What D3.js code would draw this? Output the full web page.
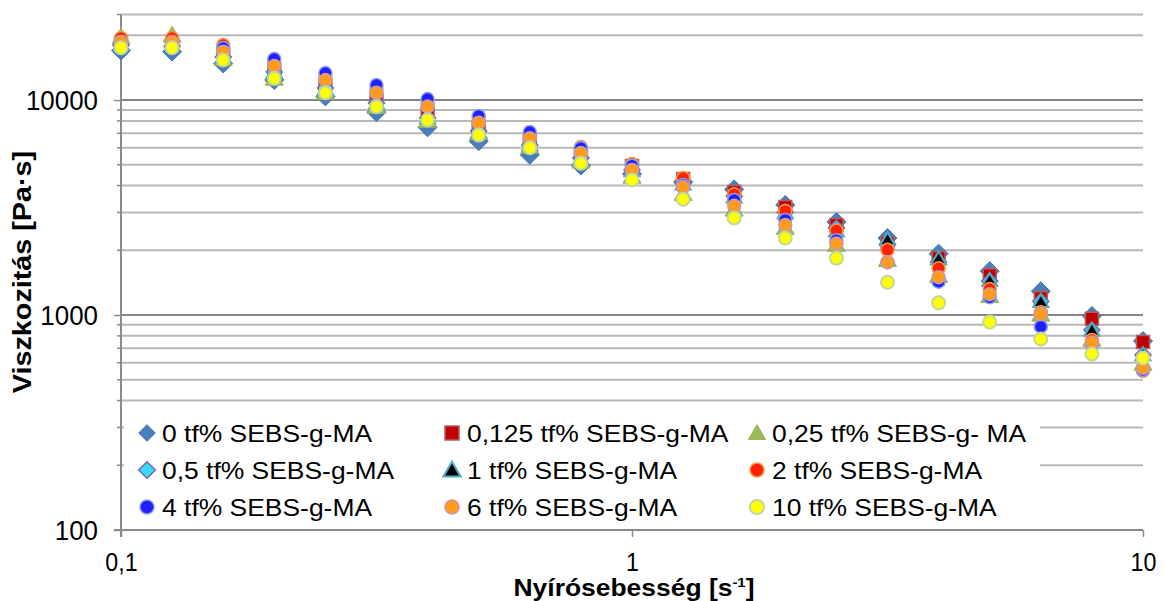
<!DOCTYPE html>
<html>
<head>
<meta charset="utf-8">
<script src="https://cdn.jsdelivr.net/npm/d3@7"></script>
<style>
  html, body { margin: 0; padding: 0; background: #fff; }
  svg { display: block; font-family: "Liberation Sans", Arial, Helvetica, sans-serif; }
</style>
</head>
<body>
<svg id="chart" width="1164" height="601"></svg>
<script>
// ---------------- DATA ----------------
const shearRates = [0.1, 0.1259, 0.1585, 0.1995, 0.2512, 0.3162, 0.3981, 0.5012, 0.631, 0.7943,
                    1, 1.259, 1.585, 1.995, 2.512, 3.162, 3.981, 5.012, 6.31, 7.943, 10];

const seriesNames = ["0 tf% SEBS-g-MA", "0,125 tf% SEBS-g-MA", "0,25 tf% SEBS-g- MA",
                     "0,5 tf% SEBS-g-MA", "1 tf% SEBS-g-MA", "2 tf% SEBS-g-MA",
                     "4 tf% SEBS-g-MA", "6 tf% SEBS-g-MA", "10 tf% SEBS-g-MA"];

const visc0    = [17000,16800,14800,12400,10400,8780,7470,6430,5560,4960,4530,4160,3840,3250,2710,2280,1930,1600,1290,990,757];
const visc0125 = [18200,18100,16200,13800,11700,10000,8600,7400,6400,5550,4930,4290,3730,3180,2620,2160,1840,1530,1200,960,750];
const visc025  = [19300,19700,15300,12400,10660,9180,7900,6950,5980,5100,4340,3610,3050,2510,2090,1780,1500,1210,990,757,585];
const visc05   = [18000,17800,15850,13500,11370,9680,8250,7170,6170,5370,4730,4110,3580,3010,2540,2140,1760,1440,1160,852,652];
const visc1    = [17800,17800,15680,13350,11130,9580,8160,7020,6110,5260,4630,4020,3500,2950,2430,2210,1800,1430,1140,840,645];
const visc2    = [19430,19430,18020,15020,12930,11250,9680,8160,6950,6040,5040,4340,3650,3050,2470,2010,1650,1320,1030,765,550];
const visc4    = [18610,18410,17450,15510,13350,11740,10110,8430,7100,5980,4950,4030,3430,2770,2230,1760,1430,1210,882,725,555];
const visc6    = [18610,18610,16780,14390,12390,10810,9330,7840,6640,5670,4730,3940,3220,2620,2150,1760,1500,1250,1010,745,567];
const visc10   = [17510,17510,15350,12620,10810,9310,8070,6870,6000,5080,4250,3460,2830,2280,1840,1420,1140,928,773,659,631];

const seriesValues = [visc0, visc0125, visc025, visc05, visc1, visc2, visc4, visc6, visc10];

const xTickValues = [0.1, 1, 10];
const xTickLabels = ["0,1", "1", "10"];
const yTickValues = [100, 1000, 10000];
const yTickLabels = ["100", "1000", "10000"];

const xTitle = "Nyírósebesség [s";
const xTitleSup = "-1";
const xTitleEnd = "]";
const yTitle = "Viszkozitás [Pa·s]";

// ---------------- STYLES ----------------
const markerStyles = [
  { shape: "diamond",  size: 9.5, fill: "#4a7ebb", stroke: "#4474ad", sw: 1 },
  { shape: "square",   size: 13,  fill: "#c00000", stroke: "#b0605e", sw: 1.5 },
  { shape: "triangle", size: 18,  fill: "#9bbb59", stroke: "#93b255", sw: 1 },
  { shape: "diamond",  size: 8,   fill: "#33ddff", stroke: "#8064a2", sw: 1.5 },
  { shape: "triangle", size: 15,  fill: "#000000", stroke: "#4bacc6", sw: 2 },
  { shape: "circle",   size: 6.5, fill: "#ff2200", stroke: "#f79646", sw: 1.5 },
  { shape: "circle",   size: 6.5, fill: "#2020ff", stroke: "#8c9ee6", sw: 1.5 },
  { shape: "circle",   size: 6.5, fill: "#ff9a1c", stroke: "#c89aa8", sw: 1.5 },
  { shape: "circle",   size: 6.5, fill: "#ffff00", stroke: "#c3d69b", sw: 2 }
];

function markerPath(shape, s) {
  if (shape === "diamond") return `M0,${-s}L${s},0L0,${s}L${-s},0Z`;
  if (shape === "square") { const h = s / 2; return `M${-h},${-h}H${h}V${h}H${-h}Z`; }
  if (shape === "triangle") {
    const h = s * 0.866;
    return `M0,${-2 * h / 3}L${s / 2},${h / 3}L${-s / 2},${h / 3}Z`;
  }
  return `M${s},0A${s},${s} 0 1,1 ${-s},0A${s},${s} 0 1,1 ${s},0Z`;
}

// ---------------- CHART ----------------
const svg = d3.select("#chart");
const plotL = 121, plotR = 1143, plotT = 14.5, plotB = 530;

const x = d3.scaleLog().domain([0.1, 10]).range([plotL, plotR]);
const y = d3.scaleLog().domain([100, 25000]).range([plotB, plotT]);

// gridlines
const gridVals = y.ticks().filter(v => v > 100).concat([25000]);
const majorSet = new Set(yTickValues);
svg.append("g").selectAll("line").data(gridVals).join("line")
  .attr("x1", plotL).attr("x2", plotR)
  .attr("y1", d => y(d)).attr("y2", d => y(d))
  .attr("stroke", d => majorSet.has(d) ? "#868686" : "#b8b8b8")
  .attr("stroke-width", 2);

// minor ticks on y axis
svg.append("g").selectAll("line").data(gridVals.filter(v => !majorSet.has(v))).join("line")
  .attr("x1", plotL - 4).attr("x2", plotL)
  .attr("y1", d => y(d)).attr("y2", d => y(d))
  .attr("stroke", "#8a8a8a").attr("stroke-width", 1.5);

// y axis
const yAxis = svg.append("g").attr("transform", `translate(${plotL},0)`)
  .call(d3.axisLeft(y).tickValues(yTickValues).tickSize(7).tickSizeOuter(0)
        .tickFormat((d, i) => yTickLabels[i]));
yAxis.select(".domain").attr("stroke", "#8a8a8a").attr("stroke-width", 2)
  .attr("d", `M0,${plotT}V${plotB + 7}`);
yAxis.selectAll(".tick line").attr("stroke", "#8a8a8a").attr("stroke-width", 1.5);
yAxis.selectAll(".tick text")
  .attr("x", null).attr("dy", null)
  .attr("font-size", 27).attr("fill", "#000").attr("text-anchor", "end")
  .attr("font-family", "Liberation Sans, Arial, sans-serif")
  .attr("transform", "translate(-23,9.5) scale(0.96,1)");

// x axis
const xAxis = svg.append("g").attr("transform", `translate(0,${plotB})`)
  .call(d3.axisBottom(x).tickValues(xTickValues).tickSize(7).tickSizeOuter(0)
        .tickFormat((d, i) => xTickLabels[i]));
xAxis.select(".domain").attr("stroke", "#8a8a8a").attr("stroke-width", 2)
  .attr("d", `M${plotL - 7},0H${plotR}`);
xAxis.selectAll(".tick line").attr("stroke", "#8a8a8a").attr("stroke-width", 1.5);
xAxis.selectAll(".tick text")
  .attr("y", null).attr("dy", null)
  .attr("font-size", 25).attr("fill", "#000").attr("text-anchor", "middle")
  .attr("font-family", "Liberation Sans, Arial, sans-serif")
  .attr("transform", "translate(0,40.5) scale(0.93,1)");

// series markers
const seriesG = svg.append("g");
seriesValues.forEach((vals, si) => {
  const st = markerStyles[si];
  seriesG.append("g").selectAll("path")
    .data(vals.map((v, i) => [shearRates[i], v])).join("path")
    .attr("d", markerPath(st.shape, st.size))
    .attr("transform", d => `translate(${x(d[0])},${y(d[1])})`)
    .attr("fill", st.fill).attr("stroke", st.stroke).attr("stroke-width", st.sw);
});

// legend
const legend = svg.append("g");
legend.append("rect").attr("x", 124).attr("y", 405).attr("width", 916).attr("height", 120)
  .attr("fill", "#fff");
const colMarkerX = [147, 452, 757];
const rowY = [433, 470, 507];
seriesNames.forEach((name, i) => {
  const col = i % 3, row = Math.floor(i / 3);
  const st = markerStyles[i];
  const legSize = st.shape === "circle" ? 7 : st.shape === "diamond" ? 8.3 : st.shape === "square" ? 14 : 17;
  const g = legend.append("g").attr("transform", `translate(${colMarkerX[col]},${rowY[row]})`);
  g.append("path").attr("d", markerPath(st.shape, legSize))
    .attr("fill", st.fill).attr("stroke", st.stroke).attr("stroke-width", st.sw)
    .attr("transform", st.shape === "triangle" ? "translate(0,1.5)" : null);
  g.append("text").attr("font-size", 23).attr("fill", "#000")
    .attr("transform", "translate(15,8.5) scale(1.15,1)")
    .text(name);
});

// axis titles
const xt = svg.append("text")
  .attr("transform", "translate(634,595.5) scale(1.15,1)")
  .attr("text-anchor", "middle").attr("font-weight", "bold").attr("font-size", 23).attr("fill", "#000");
xt.append("tspan").text(xTitle);
xt.append("tspan").attr("font-size", 13).attr("dy", -8.5).text(xTitleSup);
xt.append("tspan").attr("dy", 8.5).text(xTitleEnd);

svg.append("text")
  .attr("transform", "translate(31,272) rotate(-90) scale(1.15,1)")
  .attr("text-anchor", "middle").attr("font-weight", "bold").attr("font-size", 25).attr("fill", "#000")
  .text(yTitle);
</script>
</body>
</html>
